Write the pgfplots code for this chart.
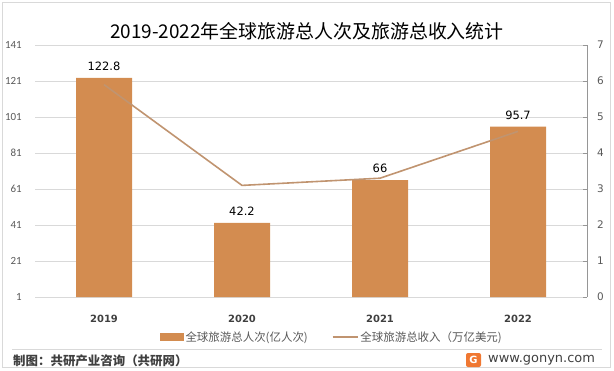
\documentclass[border=0pt]{standalone}
\usepackage{pgfplots}
\pgfplotsset{compat=1.18}
\usepackage{fontspec}
\setmainfont{Noto Sans CJK SC}
\newfontfamily\numf{Carlito}
\newfontfamily\dvs{DejaVu Sans}
\definecolor{barcol}{RGB}{211,140,80}
\definecolor{linecol}{RGB}{192,148,112}
\definecolor{gridcol}{RGB}{217,217,217}
\definecolor{ticklab}{RGB}{89,89,89}
\definecolor{xlab}{RGB}{64,64,64}
\definecolor{axgray}{RGB}{150,150,150}
\definecolor{footcol}{RGB}{64,64,64}
\definecolor{logoor}{RGB}{240,120,50}
\begin{document}
\begin{tikzpicture}[x=1bp,y=1bp]
\path[use as bounding box] (0,0) rectangle (614,370);
\draw[gridcol, line width=0.8bp] (2.5,2.5) rectangle (610.5,367.5);
\node[font=\fontsize{19}{22}\selectfont, text=black] at (307,339) {2019-2022年全球旅游总人次及旅游总收入统计};

\begin{axis}[at={(35bp,73bp)}, anchor=south west, scale only axis,
 width=552bp, height=252bp,
 /pgf/number format/assume math mode=true,
 xmin=-0.5, xmax=3.5, ymin=1, ymax=141,
 ytick={1,21,...,141}, xtick={0,1,2,3}, xticklabels={2019,2020,2021,2022},
 axis line style={draw=none}, major tick style={draw=none},
 ymajorgrids, grid style={gridcol, line width=0.8bp},
 yticklabel style={font=\numf\fontsize{11}{12}\selectfont, text=ticklab, inner sep=0pt, anchor=east, xshift=-13bp},
 xticklabel style={font=\dvs\bfseries\fontsize{10}{12}\selectfont, text=xlab, inner sep=0pt, anchor=north, yshift=-14bp},
 ybar, bar width=56bp,
 nodes near coords,
 nodes near coords style={font=\dvs\fontsize{11.5}{13}\selectfont, text=black, inner sep=0pt, anchor=south, yshift=7bp},
]
\addplot[fill=barcol, draw=none] coordinates {(0,122.8)(1,42.2)(2,66)(3,95.7)};
\end{axis}

\begin{axis}[at={(35bp,73bp)}, anchor=south west, scale only axis,
 width=552bp, height=252bp,
 /pgf/number format/assume math mode=true,
 xmin=-0.5, xmax=3.5, ymin=0, ymax=7,
 ytick={0,1,...,7},
 axis x line=none, axis y line*=right,
 y axis line style={draw=axgray, line width=0.8bp, -},
 ytick align=inside, major tick length=4bp,
 ytick style={draw=axgray, line width=0.8bp},
 yticklabel style={font=\dvs\fontsize{10.5}{12}\selectfont, text=ticklab, inner sep=0pt, anchor=west, xshift=10bp},
 legend style={at={(0.538,-0.159)}, anchor=center, draw=none, fill=none,
   legend columns=2, font=\fontsize{11.5}{13}\selectfont, text=ticklab,
   /tikz/every even column/.append style={column sep=22bp},
   nodes={inner sep=2bp}},
]
\addlegendimage{legend image code/.code={\fill[barcol] (0bp,-3.5bp) rectangle (23bp,3.5bp);}}
\addlegendentry{全球旅游总人次(亿人次)}
\addplot[linecol, line width=1.6bp, mark=none,
  legend image code/.code={\draw[linecol, line width=1.6bp] (0bp,0bp) -- (25bp,0bp);}]
  coordinates {(0,5.9)(1,3.1)(2,3.3)(3,4.6)};
\addlegendentry{全球旅游总收入（万亿美元)}
\end{axis}

\draw[gridcol, line width=0.8bp] (12,21) -- (602,21);
\node[anchor=west, font=\bfseries\fontsize{12.5}{15}\selectfont, text=footcol, inner sep=0pt] at (13,9.5) {制图：共研产业咨询（共研网）};
\fill[logoor, rounded corners=2bp] (466,3) rectangle (481,17);
\node[text=white, font=\dvs\bfseries\fontsize{10}{12}\selectfont, inner sep=0pt] at (473.5,10) {G};
\node[anchor=west, font=\dvs\fontsize{13}{15}\selectfont, text=footcol, inner sep=0pt] at (488,10) {www.gonyn.com};
\end{tikzpicture}
\end{document}
